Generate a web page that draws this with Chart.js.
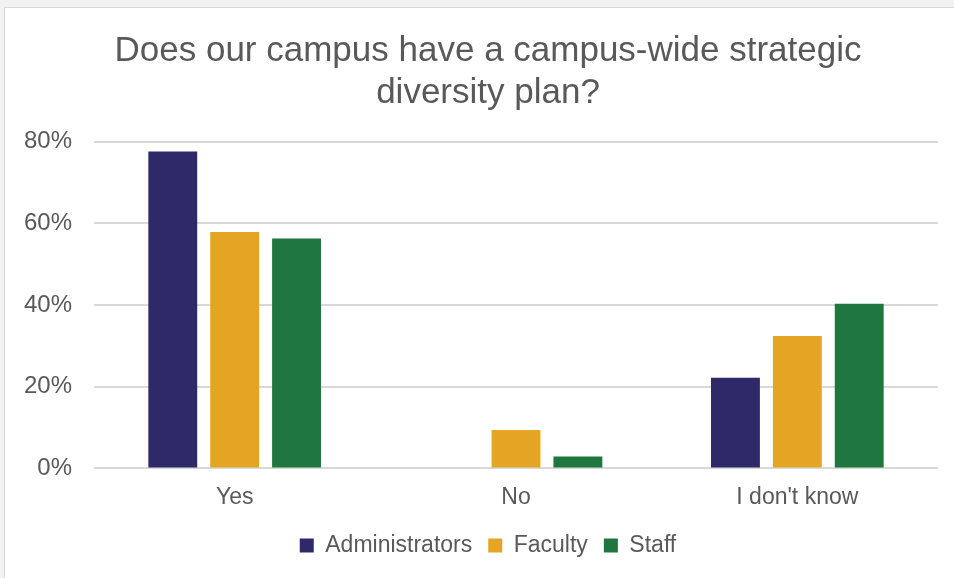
<!DOCTYPE html>
<html lang="en">
<head>
  <meta charset="UTF-8" />
  <title>Strategic diversity plan</title>
  <script src="https://cdn.jsdelivr.net/npm/chart.js"></script>
  <style>
    body { margin: 0; background: #f2f2f2; font-family: "Liberation Sans", Arial, sans-serif; }
    #frame { position: absolute; left: 4px; top: 7px; width: 960px; height: 580px; background: #fff; border: 1px solid #d9d9d9; }
    #wrap { position: absolute; left: 0; top: 0; width: 954px; height: 578px; }
  </style>
</head>
<body>
  <div id="frame"></div>
  <div id="wrap"><canvas id="planChart"></canvas></div>

  <script>
    const categories = ['Yes', 'No', "I don't know"];
    const administrators = [77.6, 0, 22.2];
    const faculty = [57.9, 9.4, 32.4];
    const staff = [56.3, 2.9, 40.3];
    const yTicks = [0, 20, 40, 60, 80];

    const textColor = '#595959';

    new Chart(document.getElementById('planChart'), {
      type: 'bar',
      data: {
        labels: categories,
        datasets: [
          { label: 'Administrators', data: administrators, backgroundColor: '#2e2a6a' },
          { label: 'Faculty', data: faculty, backgroundColor: '#e4a525' },
          { label: 'Staff', data: staff, backgroundColor: '#1f763f' }
        ]
      },
      options: {
        responsive: true,
        maintainAspectRatio: false,
        animation: false,
        layout: { padding: { left: 38, right: 16, top: 31, bottom: 11 } },
        datasets: { bar: { categoryPercentage: 0.66, barPercentage: 0.79 } },
        plugins: {
          title: {
            display: true,
            text: ['Does our campus have a campus-wide strategic', 'diversity plan?'],
            color: textColor,
            font: { family: 'Liberation Sans', size: 35, weight: 'normal', lineHeight: 1.18 },
            padding: { top: 0, bottom: 28 }
          },
          legend: {
            position: 'bottom',
            labels: {
              color: textColor,
              font: { family: 'Liberation Sans', size: 23 },
              boxWidth: 14,
              boxHeight: 14,
              padding: 16
            }
          },
          tooltip: { enabled: false }
        },
        scales: {
          x: {
            grid: { display: false },
            border: { display: false },
            ticks: { color: textColor, font: { family: 'Liberation Sans', size: 23 }, padding: 7 }
          },
          y: {
            min: 0,
            max: 80,
            afterBuildTicks: (axis) => { axis.ticks = yTicks.map(v => ({ value: v })); },
            afterFit: (axis) => { axis.width = 56; },
            grid: { color: '#d9d9d9', lineWidth: 2, drawTicks: false },
            border: { display: false },
            ticks: {
              color: textColor,
              font: { family: 'Liberation Sans', size: 24 },
              mirror: true,
              crossAlign: 'far',
              padding: -70,
              callback: (v) => v + '%'
            }
          }
        }
      }
    });
  </script>
</body>
</html>
